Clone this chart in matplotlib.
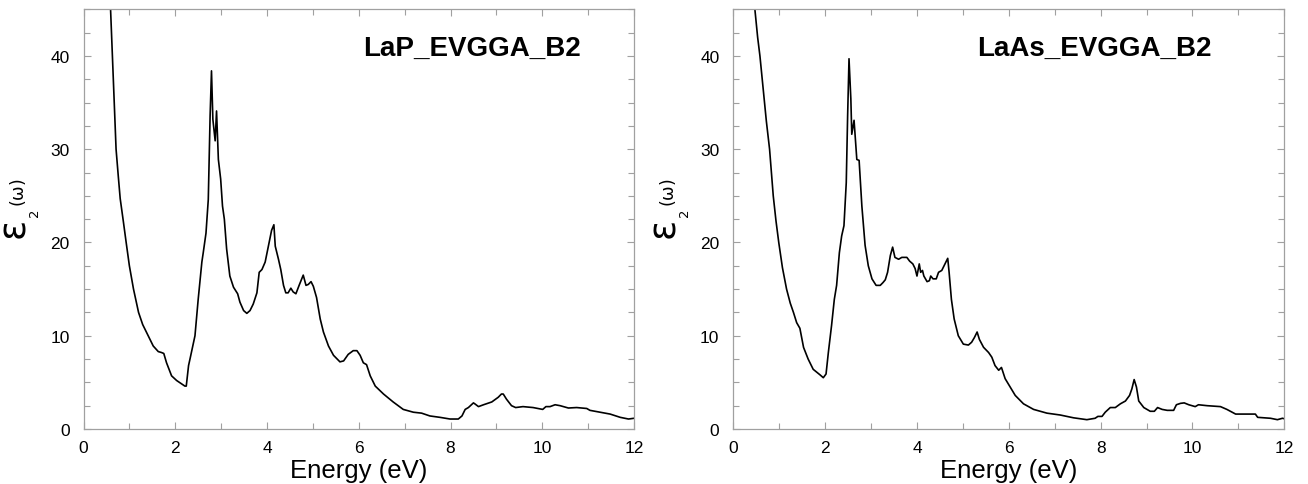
import matplotlib
matplotlib.use("Agg")
import matplotlib.pyplot as plt
from matplotlib.ticker import MultipleLocator

plt.rcParams['font.family'] = ['Liberation Sans', 'DejaVu Sans']
plt.rcParams['mathtext.fontset'] = 'dejavusans'

# ---------------- data ----------------
energy_lap = [0.55, 0.59, 0.63, 0.67, 0.71, 0.76, 0.80, 0.87, 0.93, 1.00,
              1.09, 1.20, 1.29, 1.41, 1.52,
              1.63, 1.70, 1.75, 1.81, 1.92, 2.03, 2.12, 2.21, 2.24, 2.29,
              2.33, 2.43, 2.50, 2.58, 2.61, 2.67, 2.72, 2.76, 2.79, 2.82,
              2.87, 2.90, 2.94, 2.99, 3.03, 3.07, 3.12, 3.19, 3.27, 3.36,
              3.41, 3.49, 3.56, 3.63, 3.70, 3.78, 3.83, 3.89, 3.96, 4.03,
              4.10, 4.15, 4.18, 4.25, 4.30, 4.36, 4.41, 4.46, 4.52, 4.57,
              4.63, 4.70, 4.79, 4.85, 4.90, 4.96, 5.01, 5.08, 5.16, 5.23,
              5.34, 5.45, 5.59, 5.67, 5.77, 5.88, 5.96, 6.03, 6.10, 6.17,
              6.25, 6.36, 6.54, 6.75, 6.97, 7.19, 7.37, 7.55, 7.77, 7.99,
              8.17, 8.25, 8.32, 8.39, 8.50, 8.53, 8.61, 8.72, 8.90, 9.04,
              9.11, 9.15, 9.22, 9.33, 9.42, 9.58, 9.80, 10.01, 10.08, 10.17,
              10.28, 10.39, 10.57, 10.75, 10.97, 11.04, 11.26, 11.48, 11.70, 11.88,
              12.0]
eps2_lap = [50, 45, 40, 35, 30, 27, 24.7, 22.2, 20, 17.5,
            15, 12.5, 11.2, 10, 8.9,
            8.3, 8.2, 8.1, 7.1, 5.7, 5.2, 4.9, 4.6, 4.6, 6.8,
            7.7, 10, 13.9, 17.9, 18.9, 21, 24.6, 33.6, 38.4, 33.2,
            30.9, 34.1, 28.9, 26.8, 23.9, 22.5, 19.3, 16.4, 15.2, 14.5,
            13.6, 12.7, 12.4, 12.7, 13.4, 14.6, 16.8, 17.1, 17.9, 19.6,
            21.3, 21.9, 19.6, 18.2, 17.1, 15.4, 14.6, 14.6, 15.1, 14.7,
            14.5, 15.4, 16.5, 15.4, 15.5, 15.8, 15.3, 14.1, 11.8, 10.4,
            8.9, 7.9, 7.2, 7.3, 8.0, 8.4, 8.4, 7.9, 7.1, 6.9,
            5.7, 4.6, 3.75, 2.9, 2.1, 1.8, 1.7, 1.4, 1.25, 1.07,
            1.07, 1.4, 2.1, 2.3, 2.8, 2.7, 2.4, 2.6, 2.9, 3.4,
            3.75, 3.75, 3.2, 2.5, 2.3, 2.4, 2.3, 2.1, 2.4, 2.4,
            2.6, 2.5, 2.25, 2.3, 2.2, 2.0, 1.8, 1.6, 1.25, 1.07,
            1.15]

energy_laas = [0.40, 0.47, 0.53, 0.58, 0.65, 0.72, 0.79, 0.87, 0.93, 0.99,
               1.07, 1.16, 1.24, 1.31, 1.38,
               1.45, 1.53, 1.63, 1.74, 1.89, 1.96, 2.02, 2.07, 2.14, 2.20,
               2.25, 2.31, 2.36, 2.41, 2.46, 2.49, 2.52, 2.56, 2.58, 2.63,
               2.69, 2.74, 2.80, 2.87, 2.94, 3.02, 3.11, 3.20, 3.26, 3.31,
               3.36, 3.42, 3.47, 3.52, 3.60, 3.67, 3.78, 3.84, 3.91, 3.96,
               4.00, 4.05, 4.08, 4.12, 4.15, 4.22, 4.27, 4.30, 4.35, 4.42,
               4.47, 4.54, 4.61, 4.67, 4.70, 4.75, 4.81, 4.90, 5.01, 5.12,
               5.19, 5.25, 5.31, 5.36, 5.45, 5.56, 5.63, 5.70, 5.78, 5.84,
               5.92, 6.03, 6.14, 6.32, 6.54, 6.83, 7.12, 7.41, 7.70, 7.88,
               7.94, 8.03, 8.10, 8.21, 8.32, 8.43, 8.54, 8.63, 8.68, 8.73,
               8.78, 8.83, 8.94, 9.08, 9.17, 9.24, 9.34, 9.45, 9.59, 9.65,
               9.74, 9.82, 9.92, 10.06, 10.13, 10.32, 10.61, 10.75, 10.94, 11.37,
               11.42, 11.70, 11.85, 11.96, 12.0]
eps2_laas = [52, 45, 42, 40, 36.5, 33, 30, 25, 22.3, 20,
             17.3, 15.0, 13.5, 12.5, 11.4,
             10.8, 8.75, 7.5, 6.4, 5.8, 5.5, 5.9, 8.2, 11.1, 13.9,
             15.4, 18.9, 20.7, 21.8, 26.4, 33.6, 39.7, 35.4, 31.6, 33.1,
             28.9, 28.8, 23.9, 19.7, 17.5, 16.1, 15.4, 15.4, 15.7, 16.0,
             16.8, 18.6, 19.5, 18.4, 18.2, 18.4, 18.4, 18.0, 17.7, 17.2,
             16.4, 17.7, 16.8, 17.0, 16.4, 15.8, 15.9, 16.4, 16.1, 16.1,
             16.8, 17.0, 17.7, 18.3, 16.8, 13.9, 11.8, 10.0, 9.1, 9.0,
             9.3, 9.8, 10.4, 9.6, 8.76, 8.2, 7.7, 6.8, 6.3, 6.6,
             5.4, 4.5, 3.6, 2.7, 2.1, 1.7, 1.5, 1.2, 1.0, 1.15,
             1.35, 1.35, 1.8, 2.3, 2.3, 2.7, 3.0, 3.6, 4.3, 5.3,
             4.5, 3.0, 2.3, 1.9, 1.9, 2.3, 2.1, 2.0, 2.0, 2.6,
             2.75, 2.8, 2.6, 2.4, 2.6, 2.5, 2.4, 2.1, 1.6, 1.6,
             1.25, 1.15, 1.0, 1.15, 1.1]

titles = ["LaP_EVGGA_B2", "LaAs_EVGGA_B2"]
x_ticks = [0, 2, 4, 6, 8, 10, 12]
y_ticks = [0, 10, 20, 30, 40]

# ---------------- figure ----------------
W, H = 1308, 485
fig = plt.figure(figsize=(W / 100, H / 100), dpi=100)

ax_px = [(83.5, 634.0), (733.3, 1284.3)]
top_px, bot_px = 10.3, 430.0
title_x = [6.10, 5.31]
series = [(energy_lap, eps2_lap), (energy_laas, eps2_laas)]
spine_col = '#a0a0a0'

for i, (x0, x1) in enumerate(ax_px):
    ax = fig.add_axes([x0 / W, (H - bot_px) / H, (x1 - x0) / W, (bot_px - top_px) / H])
    e, v = series[i]
    ax.plot(e, v, color='black', lw=1.2)
    ax.set_xlim(0, 12)
    ax.set_ylim(0, 45)
    ax.set_xticks(x_ticks)
    ax.set_yticks(y_ticks)
    ax.xaxis.set_minor_locator(MultipleLocator(1))
    ax.yaxis.set_minor_locator(MultipleLocator(2.5))
    ax.tick_params(which='both', direction='in', top=True, right=True,
                   color=spine_col, width=0.8)
    ax.tick_params(which='major', length=5)
    ax.tick_params(which='minor', length=4)
    ax.tick_params(axis='x', which='major', labelsize=12.5, pad=8)
    ax.tick_params(axis='y', which='major', labelsize=12.5, pad=10)
    for s in ax.spines.values():
        s.set_color(spine_col)
        s.set_linewidth(0.9)
    ax.set_xlabel("Energy (eV)", fontsize=18.5, labelpad=2)
    ax.text(title_x[i], 40.9, titles[i], fontsize=20, fontweight='bold',
            ha='left', va='center')
    # y label: large epsilon, small subscript 2 and (ω)
    ex = x0 - 68
    fig.text(ex / W, 1 - 231 / H, r"$\mathrm{\varepsilon}$", fontsize=27, rotation=90,
             ha='center', va='center')
    fig.text((ex + 20) / W, 1 - 214 / H, r"$\mathrm{2}$", fontsize=9.5, rotation=90,
             ha='center', va='center')
    fig.text((ex + 3) / W, 1 - 193 / H, r"$\mathrm{(\omega)}$", fontsize=12.5, rotation=90,
             ha='center', va='center')

fig.savefig("out.png", dpi=100)
